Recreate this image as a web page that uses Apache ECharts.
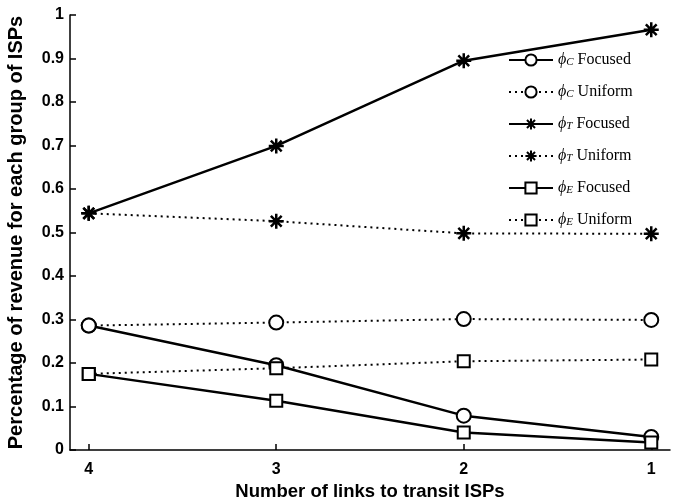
<!DOCTYPE html>
<html><head><meta charset="utf-8">
<script src="https://cdn.jsdelivr.net/npm/echarts@6/dist/echarts.min.js"></script>
<style>html,body{margin:0;padding:0;background:#fff}#c{width:682px;height:503px}</style>
</head><body><div id="c"></div>
<script>
const xValues = [4, 3, 2, 1];
const xTicks = [1, 2, 3, 4];
const cFocused = [0.286, 0.195, 0.079, 0.030];
const cUniform = [0.286, 0.293, 0.301, 0.299];
const tFocused = [0.544, 0.699, 0.895, 0.966];
const tUniform = [0.544, 0.526, 0.498, 0.497];
const eFocused = [0.175, 0.113, 0.040, 0.017];
const eUniform = [0.175, 0.188, 0.204, 0.208];

const seriesDefs = [
  {name: 'C Focused', sub: 'C', kind: 'Focused', data: cFocused, symbol: 'circle', dash: 'solid'},
  {name: 'C Uniform', sub: 'C', kind: 'Uniform', data: cUniform, symbol: 'circle', dash: 'dotted'},
  {name: 'T Focused', sub: 'T', kind: 'Focused', data: tFocused, symbol: 'star', dash: 'solid'},
  {name: 'T Uniform', sub: 'T', kind: 'Uniform', data: tUniform, symbol: 'star', dash: 'dotted'},
  {name: 'E Focused', sub: 'E', kind: 'Focused', data: eFocused, symbol: 'rect', dash: 'solid'},
  {name: 'E Uniform', sub: 'E', kind: 'Uniform', data: eUniform, symbol: 'rect', dash: 'dotted'}
];
const starPath = 'path://M-1,0L1,0M0,-1L0,1M-0.72,-0.72L0.72,0.72M-0.72,0.72L0.72,-0.72';

const chart = echarts.init(document.getElementById('c'), null, {renderer: 'canvas'});
const series = seriesDefs.map(d => ({
  name: d.name,
  type: 'line',
  data: xValues.map((x, i) => [x, d.data[i]]),
  symbol: d.symbol === 'star' ? starPath : d.symbol,
  symbolSize: d.symbol === 'star' ? 15 : (d.symbol === 'rect' ? 12 : 14),
  showAllSymbol: true,
  lineStyle: {color: '#000', width: d.dash === 'solid' ? 2.5 : 2, type: d.dash === 'solid' ? 'solid' : [2, 4]},
  itemStyle: {color: d.symbol === 'star' ? '#000' : '#fff', borderColor: '#000', borderWidth: d.symbol === 'star' ? 2.5 : 2},
  emphasis: {disabled: true},
  animation: false
}));

const subMap = {};
seriesDefs.forEach(d => subMap[d.name] = d);

chart.setOption({
  animation: false,
  backgroundColor: '#fff',
  grid: {left: 70, right: 12, top: 15, bottom: 53, containLabel: false, outerBoundsMode: 'none'},
  legend: {
    orient: 'vertical', left: 503, top: 47,
    itemWidth: 44, itemHeight: 14, itemGap: 16,
    data: seriesDefs.map(d => d.name),
    formatter: function (name) {
      const d = subMap[name];
      return '{p|ϕ}{s|' + d.sub + '}{t| ' + d.kind + '}';
    },
    textStyle: {
      color: '#000',
      rich: {
        p: {fontFamily: 'Liberation Serif', fontStyle: 'italic', fontSize: 16, color: '#000'},
        s: {fontFamily: 'Liberation Serif', fontStyle: 'italic', fontSize: 11, color: '#000', padding: [5, 0, 0, 0]},
        t: {fontFamily: 'Liberation Serif', fontSize: 16, color: '#000'}
      }
    }
  },
  xAxis: {
    type: 'value', inverse: true, min: 0.9, max: 4.1,
    name: 'Number of links to transit ISPs', nameLocation: 'middle', nameGap: 28,
    nameTextStyle: {fontFamily: 'Liberation Sans', fontWeight: 'bold', fontSize: 18.5, color: '#000'},
    axisLine: {show: true, lineStyle: {color: '#000', width: 1.5}},
    axisTick: {show: true, inside: true, length: 6, customValues: xTicks, lineStyle: {color: '#000', width: 1.5}},
    axisLabel: {customValues: xTicks, margin: 12, fontFamily: 'Liberation Sans', fontWeight: 'bold', fontSize: 16, color: '#000'},
    splitLine: {show: false}
  },
  yAxis: {
    type: 'value', min: 0, max: 1, interval: 0.1,
    name: 'Percentage of revenue for each group of ISPs', nameLocation: 'middle', nameGap: 44,
    nameTextStyle: {fontFamily: 'Liberation Sans', fontWeight: 'bold', fontSize: 20, color: '#000'},
    axisLine: {show: true, lineStyle: {color: '#000', width: 1.5}},
    axisTick: {show: true, inside: true, length: 6, lineStyle: {color: '#000', width: 1.5}},
    axisLabel: {margin: 6, fontFamily: 'Liberation Sans', fontWeight: 'bold', fontSize: 16, color: '#000'},
    splitLine: {show: false}
  },
  series: series
});
</script></body></html>
